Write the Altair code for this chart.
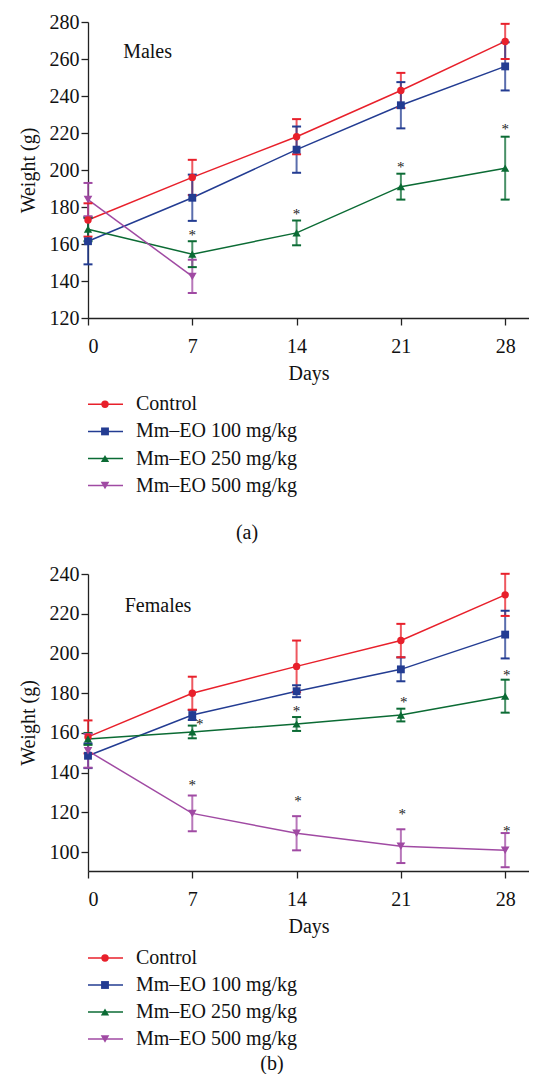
import altair as alt
import pandas as pd

FONT = "Liberation Serif"

days = [0, 7, 14, 21, 28]
series_names = ["Control", "Mm–EO 100 mg/kg", "Mm–EO 250 mg/kg", "Mm–EO 500 mg/kg"]
series_colors = ["#e8202b", "#233c92", "#0b6b34", "#a04aa3"]
series_shapes = ["circle", "square", "triangle-up", "triangle-down"]

# Males (a)
male_control = [173, 196, 218, 243, 269.5]
male_control_sd = [9, 9.5, 9.5, 9.5, 9.5]
male_100 = [161.5, 185, 211, 235, 256]
male_100_sd = [12.5, 12.5, 12.5, 12.5, 13]
male_250 = [168, 154.5, 166, 191, 201]
male_250_sd = [6.5, 7, 6.7, 7, 17]
male_500_days = [0, 7]
male_500 = [184, 142.5]
male_500_sd = [9, 9]
male_star_days = [7, 14, 21, 28]
male_star_vals = [167, 178.5, 204, 224.5]

# Females (b)
female_control = [158, 180, 193.5, 206.5, 229.5]
female_control_sd = [8.3, 8.3, 13, 8.4, 10.6]
female_100 = [148.5, 169, 181, 192, 209.5]
female_100_sd = [6.2, 2.5, 3, 6, 12]
female_250 = [157, 160.5, 164.5, 169, 178.5]
female_250_sd = [3, 3.2, 3.5, 3.2, 8.3]
female_500 = [151, 119.5, 109.5, 103, 101]
female_500_sd = [8.5, 9, 8.6, 8.5, 8.6]
female_star_days = [7.5, 7, 14, 14.1, 21.2, 21.1, 28.1, 28.1]
female_star_vals = [166.5, 136, 173, 128, 177.6, 121.3, 191.3, 112.8]

male_ticks = [120, 140, 160, 180, 200, 220, 240, 260, 280]
female_ticks = [100, 120, 140, 160, 180, 200, 220, 240]


def long_df(groups):
    rows = []
    for name, ds, means, sds in groups:
        for d, m, s in zip(ds, means, sds):
            rows.append({"series": name, "day": d, "mean": m, "sd": s})
    return pd.DataFrame(rows)


male_df = long_df([
    (series_names[0], days, male_control, male_control_sd),
    (series_names[1], days, male_100, male_100_sd),
    (series_names[2], days, male_250, male_250_sd),
    (series_names[3], male_500_days, male_500, male_500_sd),
])
female_df = long_df([
    (series_names[0], days, female_control, female_control_sd),
    (series_names[1], days, female_100, female_100_sd),
    (series_names[2], days, female_250, female_250_sd),
    (series_names[3], days, female_500, female_500_sd),
])

color_scale = alt.Scale(domain=series_names, range=series_colors)
shape_scale = alt.Scale(domain=series_names, range=series_shapes)

PLOT_W = 441


def panel(df, star_days, star_vals, label, label_day, label_val, ydomain, yticks, height, sizes):
    xs = alt.Scale(domain=[0, 29.6], nice=False, zero=False)
    ys = alt.Scale(domain=ydomain, nice=False, zero=False)
    xa = alt.Axis(values=days, title="Days", tickSize=7, labelPadding=11, titlePadding=7,
                  labelFontSize=20, titleFontSize=20, grid=False, labelFont=FONT, titleFont=FONT,
                  domainColor="#222", tickColor="#222", domainWidth=1.3, tickWidth=1.3,
                  labelColor="#111", titleColor="#111", titleFontWeight="normal")
    ya = alt.Axis(values=yticks, title="Weight (g)", tickSize=7, labelPadding=2, titlePadding=10.5,
                  labelFontSize=20, titleFontSize=20, grid=False, labelFont=FONT, titleFont=FONT,
                  domainColor="#222", tickColor="#222", domainWidth=1.3, tickWidth=1.3,
                  labelColor="#111", titleColor="#111", titleFontWeight="normal")
    X = alt.X("day:Q", scale=xs, axis=xa)
    col = alt.Color("series:N", scale=color_scale, legend=None)
    base = alt.Chart(df).transform_calculate(
        lo="datum.mean - datum.sd", hi="datum.mean + datum.sd"
    )
    lines = base.mark_line(strokeWidth=1.5).encode(
        x=X, y=alt.Y("mean:Q", scale=ys, axis=ya), color=col)
    stems = base.mark_rule(strokeWidth=2, opacity=0.75).encode(
        x=X, y=alt.Y("lo:Q", scale=ys, axis=ya), y2="hi:Q", color=col)
    cap_hi = base.mark_tick(orient="horizontal", size=9, thickness=2, opacity=1).encode(
        x=X, y=alt.Y("hi:Q", scale=ys, axis=ya), color=col)
    cap_lo = base.mark_tick(orient="horizontal", size=9, thickness=2, opacity=1).encode(
        x=X, y=alt.Y("lo:Q", scale=ys, axis=ya), color=col)
    pts = base.mark_point(filled=True, opacity=1).encode(
        x=X, y=alt.Y("mean:Q", scale=ys, axis=ya), color=col,
        shape=alt.Shape("series:N", scale=shape_scale, legend=None),
        size=alt.Size("series:N", scale=alt.Scale(domain=series_names, range=sizes), legend=None))
    stars = alt.Chart(pd.DataFrame({"day": star_days, "val": star_vals, "t": ["*"] * len(star_days)})).mark_text(
        font=FONT, fontSize=15, fill="#222", baseline="middle", dy=4).encode(
        x=X, y=alt.Y("val:Q", scale=ys, axis=ya), text="t:N")
    lab = alt.Chart(pd.DataFrame({"day": [label_day], "val": [label_val], "t": [label]})).mark_text(
        font=FONT, fontSize=20, fill="#111", baseline="middle").encode(
        x=X, y=alt.Y("val:Q", scale=ys, axis=ya), text="t:N")
    return alt.layer(lines, stems, cap_hi, cap_lo, pts, stars, lab).properties(width=PLOT_W, height=height)


def legend(caption, cap_x, cap_y, row_range, height, sizes):
    ldf = pd.DataFrame({"series": series_names, "row": list(range(len(series_names)))})
    Y = alt.Y("row:Q", scale=alt.Scale(domain=[0, len(series_names) - 1], range=row_range), axis=None)
    col = alt.Color("series:N", scale=color_scale, legend=None)
    base = alt.Chart(ldf)
    rules = base.mark_rule(strokeWidth=1.5).encode(x=alt.value(0), x2=alt.value(35), y=Y, color=col)
    pts = base.mark_point(filled=True, opacity=1).encode(
        x=alt.value(17), y=Y, color=col,
        shape=alt.Shape("series:N", scale=shape_scale, legend=None),
        size=alt.Size("series:N", scale=alt.Scale(domain=series_names, range=sizes), legend=None))
    txt = base.mark_text(font=FONT, fontSize=20, align="left", baseline="middle", fill="#111").encode(
        x=alt.value(48), y=Y, text="series:N")
    cap = alt.Chart(pd.DataFrame({"t": [caption]})).mark_text(
        font=FONT, fontSize=20, baseline="middle", fill="#111").encode(
        x=alt.value(cap_x), y=alt.value(cap_y), text="t:N")
    return alt.layer(rules, pts, txt, cap).properties(width=PLOT_W, height=height)


sizes_top = [55, 75, 45, 45]
sizes_bot = [42, 48, 32, 36]

plot_a = panel(male_df, male_star_days, male_star_vals, "Males", 4.0, 263.7,
               [120, 280], male_ticks, 296, sizes_top)
leg_a = legend("(a)", 159, 150.1, [21.3, 102.6], 180.4, sizes_top)
plot_b = panel(female_df, female_star_days, female_star_vals, "Females", 4.7, 223.7,
               [90.5, 240], female_ticks, 297, sizes_bot)
leg_b = legend("(b)", 184, 127.5, [22, 103], 137, sizes_bot)

chart = alt.vconcat(plot_a, leg_a, plot_b, leg_b, spacing=0).properties(
    padding={"left": 10, "top": 4, "right": 0, "bottom": 0}
).configure(
    font=FONT, background="white",
    view=alt.ViewConfig(stroke=None),
    axis=alt.AxisConfig(labelFont=FONT, titleFont=FONT),
    text=alt.MarkConfig(font=FONT),
)

chart.save("out.html", embed_options={"renderer": "svg", "actions": False})
